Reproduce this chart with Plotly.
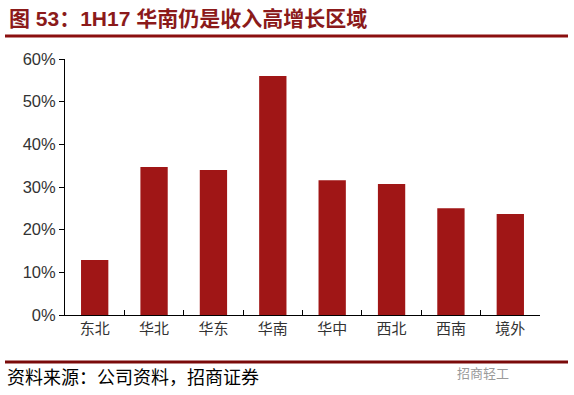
import plotly.graph_objects as go

categories = ["东北", "华北", "华东", "华南", "华中", "西北", "西南", "境外"]
growth = [12.9, 34.7, 34.0, 56.0, 31.6, 30.7, 25.0, 23.7]
y_ticks = [0, 10, 20, 30, 40, 50, 60]
y_tick_labels = ["0%", "10%", "20%", "30%", "40%", "50%", "60%"]

title_text = "图 53：1H17 华南仍是收入高增长区域"
source_text = "资料来源：公司资料，招商证券"
watermark_text = "招商轻工"

W, H = 574, 395
ml, mr, mt, mb = 65, 34, 59, 80

fig = go.Figure(go.Bar(
    x=categories, y=growth,
    marker=dict(color="#A01616", line=dict(width=0)),
    width=0.46,
))

def px_x(x):
    return (x - ml) / (W - ml - mr)

def px_y(y):
    return (H - mb - y) / (H - mt - mb)

fig.update_layout(
    width=W, height=H,
    margin=dict(l=ml, r=mr, t=mt, b=mb),
    plot_bgcolor="white", paper_bgcolor="white",
    showlegend=False,
    font=dict(family="Arial, 'Noto Sans CJK SC'", color="#333333"),
    xaxis=dict(
        type="category",
        showline=True, linecolor="#000000", linewidth=1,
        ticks="inside", tickson="boundaries", ticklen=5, tickcolor="#000000",
        tickfont=dict(size=15, family="'Noto Sans CJK SC'", color="#333333"),
        showgrid=False,
    ),
    yaxis=dict(
        range=[0, 60], tickvals=y_ticks, ticktext=y_tick_labels,
        showline=True, linecolor="#000000", linewidth=1,
        ticks="outside", ticklen=5, tickcolor="#000000",
        tickfont=dict(size=16.5, family="Arial", color="#333333"),
        showgrid=False, zeroline=False,
    ),
    shapes=[
        dict(type="line", xref="paper", yref="paper",
             x0=px_x(5), x1=px_x(568), y0=px_y(36), y1=px_y(36),
             line=dict(color="#8B0F0F", width=3)),
        dict(type="line", xref="paper", yref="paper",
             x0=px_x(5), x1=px_x(568), y0=px_y(362), y1=px_y(362),
             line=dict(color="#7A0A0A", width=3)),
    ],
    annotations=[
        dict(text="<b>" + title_text + "</b>", xref="paper", yref="paper",
             x=px_x(7), y=px_y(18), xanchor="left", yanchor="middle",
             showarrow=False,
             font=dict(size=21, color="#8B1A1A", family="Arial, 'Noto Sans CJK SC'")),
        dict(text=source_text, xref="paper", yref="paper",
             x=px_x(5), y=px_y(376), xanchor="left", yanchor="middle",
             showarrow=False,
             font=dict(size=18, color="#000000", family="'Noto Sans CJK SC'")),
        dict(text=watermark_text, xref="paper", yref="paper",
             x=px_x(455), y=px_y(372), xanchor="left", yanchor="middle",
             showarrow=False,
             font=dict(size=13, color="#9A9A9A", family="'Noto Sans CJK SC'")),
    ],
)

fig.write_html("out.html",
               config={"displayModeBar": False},
               post_script="document.body.style.margin='0';document.body.style.padding='0';")
